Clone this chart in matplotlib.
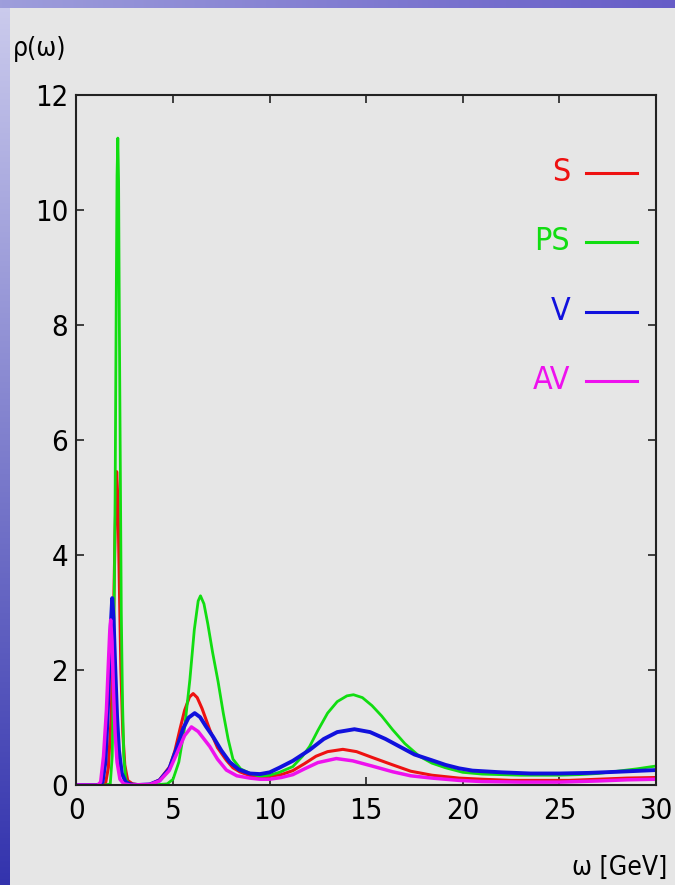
# spectral functions rho(omega) for the four channels
import numpy as np
import matplotlib.pyplot as plt
from matplotlib import font_manager

names = ['S', 'PS', 'V', 'AV']
colors = ['#ee1111', '#11dd11', '#1111dd', '#ee11ee']

# values (omega in GeV, rho dimensionless)
w_S = [0, 1.3, 1.5, 1.65, 1.8, 1.9, 2.0, 2.08, 2.15, 2.22, 2.3, 2.4, 2.5, 2.65, 2.9, 3.3, 3.8,
       4.3, 4.83, 5.1, 5.35, 5.6, 5.85, 6.04, 6.25, 6.5, 6.9, 7.3, 7.76, 8.1, 8.45, 9.0, 9.5,
       10.0, 10.6, 11.2, 11.8, 12.4, 13.0, 13.79, 14.5, 15.3, 16.37, 17.3, 18.4, 19.8, 21, 22.5,
       24, 25.5, 27, 28.5, 30]
r_S = [0, 0, 0.02, 0.3, 1.2, 2.6, 4.4, 5.45, 4.9, 3.5, 2.0, 0.9, 0.35, 0.08, 0.02, 0, 0.01,
       0.09, 0.32, 0.6, 0.96, 1.3, 1.53, 1.59, 1.52, 1.33, 0.96, 0.65, 0.43, 0.3, 0.23, 0.16, 0.14,
       0.15, 0.18, 0.25, 0.37, 0.5, 0.58, 0.62, 0.58, 0.48, 0.35, 0.24, 0.17, 0.12, 0.1, 0.08,
       0.08, 0.08, 0.1, 0.12, 0.13]

w_PS = [0, 1.5, 1.75, 1.85, 1.92, 2.0, 2.06, 2.1, 2.14, 2.18, 2.22, 2.27, 2.32, 2.38, 2.45, 2.55,
        2.7, 3.0, 4.0, 4.7, 5.0, 5.3, 5.6, 5.87, 6.1, 6.3, 6.42, 6.6, 6.8, 7.05, 7.33, 7.6, 7.85,
        8.1, 8.5, 9.0, 9.5, 10.0, 10.5, 11.2, 11.7, 12.07, 12.5, 13.0, 13.5, 14.0, 14.34, 14.8,
        15.3, 15.8, 16.37, 17.0, 17.75, 18.4, 19.1, 20, 21, 22, 23, 24, 25, 26, 27, 28, 29, 30]
r_PS = [0, 0, 0.02, 0.5, 2.0, 5.0, 8.5, 10.6, 11.25, 10.5, 8.0, 5.5, 3.0, 1.5, 0.5, 0.1,
        0.02, 0, 0, 0.02, 0.1, 0.4, 1.0, 1.83, 2.7, 3.2, 3.29, 3.15, 2.8, 2.3, 1.8, 1.25, 0.8,
        0.45, 0.28, 0.2, 0.15, 0.17, 0.22, 0.32, 0.5, 0.67, 0.95, 1.25, 1.45, 1.55, 1.57, 1.52,
        1.38, 1.2, 0.96, 0.72, 0.5, 0.38, 0.3, 0.22, 0.19, 0.18, 0.17, 0.17, 0.17, 0.18, 0.2,
        0.24, 0.28, 0.33]

w_V = [0, 1.2, 1.35, 1.5, 1.6, 1.7, 1.78, 1.85, 1.92, 2.0, 2.1, 2.2, 2.35, 2.55, 2.8, 3.2, 3.8,
       4.3, 4.8, 5.2, 5.52, 5.8, 6.12, 6.4, 6.7, 7.07, 7.5, 7.93, 8.4, 8.97, 9.5, 10.0, 10.5,
       11.2, 12.07, 12.8, 13.5, 14.39, 15.2, 16.0, 16.72, 17.5, 18.4, 19.1, 19.8, 20.5, 22, 23.5,
       25, 26.5, 28, 30]
r_V = [0, 0, 0.05, 0.4, 1.1, 2.0, 2.8, 3.25, 2.9, 2.1, 1.2, 0.6, 0.2, 0.05, 0.01, 0, 0.01,
       0.08, 0.28, 0.65, 0.98, 1.17, 1.25, 1.18, 1.02, 0.84, 0.6, 0.4, 0.27, 0.2, 0.19, 0.22, 0.3,
       0.42, 0.61, 0.8, 0.92, 0.97, 0.92, 0.8, 0.67, 0.53, 0.43, 0.35, 0.29, 0.25, 0.22, 0.2,
       0.2, 0.21, 0.23, 0.26]

w_AV = [0, 1.1, 1.25, 1.4, 1.55, 1.65, 1.72, 1.77, 1.84, 1.92, 2.0, 2.1, 2.25, 2.45, 2.8, 3.8,
        4.3, 4.8, 5.2, 5.6, 5.95, 6.3, 6.6, 6.9, 7.3, 7.76, 8.3, 8.97, 9.5, 10, 10.6, 11.2, 11.8,
        12.5, 13.45, 14.3, 15.3, 16.37, 17.3, 18.4, 19.8, 21, 23, 25, 27, 28.5, 30]
r_AV = [0, 0, 0.05, 0.5, 1.3, 2.1, 2.65, 2.87, 2.5, 1.6, 0.9, 0.4, 0.1, 0.02, 0, 0.01,
        0.07, 0.25, 0.55, 0.86, 1.01, 0.93, 0.8, 0.67, 0.45, 0.26, 0.16, 0.12, 0.1, 0.1, 0.13,
        0.18, 0.28, 0.39, 0.46, 0.42, 0.33, 0.23, 0.16, 0.12, 0.08, 0.06, 0.05, 0.05, 0.07,
        0.09, 0.1]

xs = [w_S, w_PS, w_V, w_AV]
ys = [r_S, r_PS, r_V, r_AV]
widths = [2.2, 2.0, 2.8, 2.5]

# use a condensed face if one is installed, otherwise Liberation Sans
fams = set(f.name for f in font_manager.fontManager.ttflist)
cond = [f for f in font_manager.fontManager.ttflist
        if f.name == 'DejaVu Sans' and f.stretch == 'condensed' and f.weight == 400
        and f.style == 'normal']
if 'Liberation Sans Narrow' in fams:
    plt.rcParams['font.family'] = ['Liberation Sans Narrow', 'DejaVu Sans']
    tsize, ksize = 24, 26
elif cond:
    plt.rcParams['font.family'] = ['DejaVu Sans']
    plt.rcParams['font.stretch'] = 'condensed'
    tsize, ksize = 21, 23
else:
    plt.rcParams['font.family'] = ['Liberation Sans', 'DejaVu Sans']
    tsize, ksize = 22, 24

bg = '#e6e6e6'
fig = plt.figure(figsize=(6.75, 8.85), dpi=100, facecolor=bg)

# slide background showing at the left and top edges
grad = np.linspace(0, 1, 885)[:, None] * np.ones((1, 10))
left = np.dstack([0.80 - 0.60 * grad, 0.80 - 0.60 * grad, 0.93 - 0.25 * grad])
fig.figimage(left, xo=0, yo=0, origin='upper', zorder=0)
top = np.linspace(0, 1, 675)[None, :] * np.ones((8, 1))
topimg = np.dstack([0.62 - 0.22 * top, 0.62 - 0.26 * top, 0.86 - 0.08 * top])
fig.figimage(topimg, xo=0, yo=877, origin='upper', zorder=0)

ax = fig.add_axes([0.1133, 0.1130, 0.8585, 0.7797])
ax.set_facecolor(bg)

for x, y, c, lw in zip(xs, ys, colors, widths):
    ax.plot(x, y, color=c, lw=lw, solid_capstyle='butt', solid_joinstyle='round')

ax.set_xlim(0, 30)
ax.set_ylim(0, 12)
ax.set_xticks(np.arange(0, 31, 5))
ax.set_yticks(np.arange(0, 13, 2))
ax.tick_params(direction='in', length=6, width=1.2, top=True, right=True,
               labelsize=tsize, color='#222222')
ax.tick_params(axis='x', pad=9)
ax.tick_params(axis='y', pad=6)
for s in ax.spines.values():
    s.set_linewidth(1.5)
    s.set_color('#222222')

# key drawn as in the original (label to the left of the line)
key_y = [0.887, 0.787, 0.6855, 0.5855]
for name, c, ky in zip(names, colors, key_y):
    ax.text(0.852, ky, name, color=c, fontsize=ksize, ha='right', va='center',
            transform=ax.transAxes)
    ax.plot([0.879, 0.967], [ky, ky], color=c, lw=2.2, transform=ax.transAxes)

fig.text(13 / 675, 1 - 36 / 885, 'ρ(ω)', fontsize=19, ha='left', va='top')
fig.text(667 / 675, 1 - 881 / 885, 'ω [GeV]', fontsize=19, ha='right', va='bottom')

plt.savefig('out.png', dpi=100, facecolor=bg)
